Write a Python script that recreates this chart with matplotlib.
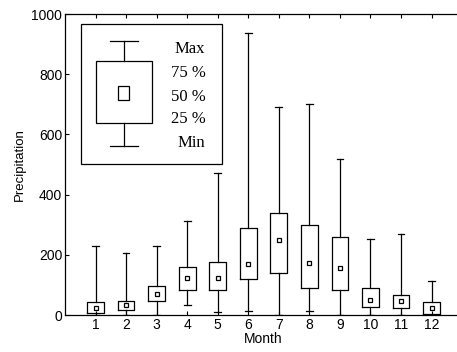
import matplotlib
matplotlib.use("Agg")
import matplotlib.pyplot as plt
from matplotlib.patches import Rectangle

# monthly precipitation statistics
months = [1, 2, 3, 4, 5, 6, 7, 8, 9, 10, 11, 12]
p_min = [0, 0, 0, 32, 11, 14, 0, 13, 0, 0, 0, 0]
p_q1 = [8, 16, 45, 82, 84, 120, 140, 89, 82, 27, 23, 5]
p_med = [24, 32, 71, 123, 123, 171, 248, 172, 155, 49, 46, 24]
p_q3 = [43, 48, 95, 160, 177, 290, 339, 298, 260, 91, 66, 42]
p_max = [228, 205, 230, 312, 473, 938, 692, 701, 517, 252, 268, 113]

key_labels = ["Max", "75 %", "50 %", "25 %", "Min"]
key_label_y = [883, 805, 725, 652, 572]

plt.rcParams['font.family'] = ['Liberation Sans', 'DejaVu Sans']

fig = plt.figure(figsize=(4.57, 3.52), dpi=100)
ax = fig.add_axes([0.1422, 0.1051, 0.869, 0.855])

stats = []
for i in range(len(months)):
    stats.append(dict(whislo=p_min[i], q1=p_q1[i], med=p_med[i],
                      q3=p_q3[i], whishi=p_max[i], fliers=[]))

lw = 0.9
ax.bxp(stats, positions=months, widths=0.55, capwidths=0.22,
       showfliers=False, manage_ticks=False,
       boxprops=dict(color='black', linewidth=lw),
       whiskerprops=dict(color='black', linewidth=lw),
       capprops=dict(color='black', linewidth=lw),
       medianprops=dict(linestyle='none'))
ax.plot(months, p_med, 's', ms=3, mfc='white', mec='black', mew=0.9,
        linestyle='none')

# key explaining the box symbols
ax.add_patch(Rectangle((0.51, 502), 4.64, 465, fill=True, facecolor='white',
                       edgecolor='black', linewidth=lw, zorder=3))
kx = 1.93
ax.plot([kx, kx], [562, 637], color='black', lw=lw, zorder=4)
ax.plot([kx, kx], [843, 909], color='black', lw=lw, zorder=4)
ax.plot([kx - 0.45, kx + 0.45], [909, 909], color='black', lw=lw, zorder=4)
ax.plot([kx - 0.45, kx + 0.45], [562, 562], color='black', lw=lw, zorder=4)
ax.add_patch(Rectangle((kx - 0.93, 637), 1.86, 206, fill=False,
                       edgecolor='black', linewidth=lw, zorder=4))
ax.add_patch(Rectangle((kx - 0.18, 714), 0.36, 47, fill=False,
                       edgecolor='black', linewidth=lw, zorder=4))
for lab, y in zip(key_labels, key_label_y):
    ax.text(4.6, y, lab, ha='right', va='center', fontsize=12,
            family=['Liberation Serif', 'DejaVu Serif'], zorder=5)

ax.set_xlim(0, 13)
ax.set_ylim(0, 1000)
ax.set_xticks(months)
ax.set_xticklabels([str(m) for m in months])
ax.set_yticks([0, 200, 400, 600, 800, 1000])
ax.tick_params(direction='in', top=True, right=False, labelsize=10,
               length=3, width=0.8, pad=2)
for s in ax.spines.values():
    s.set_linewidth(0.9)
ax.set_xlabel("Month", fontsize=10, labelpad=0)
ax.set_ylabel("Precipitation", fontsize=9.5, labelpad=4)

fig.savefig("out.png", dpi=100)
